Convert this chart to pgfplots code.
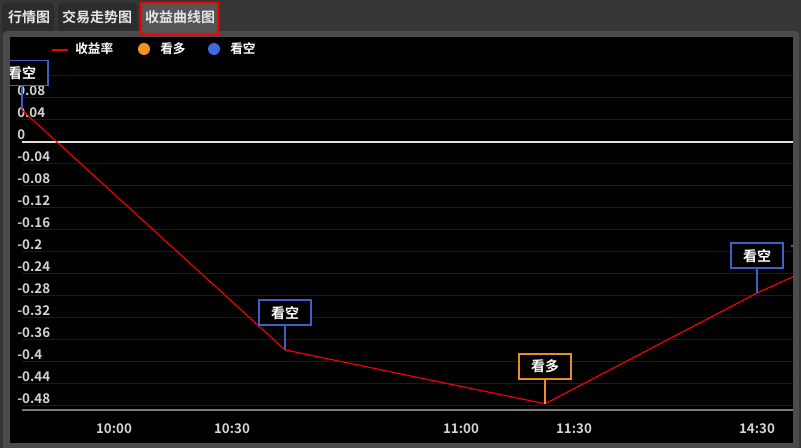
\documentclass[border=0pt]{standalone}
\usepackage{fontspec}
\setmainfont{Noto Sans CJK SC}[BoldFont={Noto Sans CJK SC Bold}]
\usepackage{pgfplots}
\pgfplotsset{compat=1.18}
\definecolor{bgtop}{HTML}{363636}
\definecolor{panel}{HTML}{4B4B4B}
\definecolor{tabbg}{HTML}{2C2C2C}
\definecolor{tabon}{HTML}{555555}
\definecolor{tabtxt}{HTML}{E6E6E6}
\definecolor{gridc}{HTML}{1C1C1C}
\definecolor{axisgray}{HTML}{7A7A7A}
\definecolor{ticktxt}{HTML}{D4D4D4}
\definecolor{lineRed}{HTML}{F00000}
\definecolor{duo}{HTML}{F7941D}
\definecolor{kong}{HTML}{4169E1}
\definecolor{kongbox}{HTML}{3F5FC8}
\definecolor{duobox}{HTML}{E8901E}

\begin{document}
\begin{tikzpicture}
% window chrome, in pixels (1px = 0.75pt)
\begin{scope}[x=0.75pt,y=-0.75pt]
  \fill[bgtop] (0,0) rectangle (801,448);
  \fill[tabbg, rounded corners=3pt] (2,3) rectangle (54,36);
  \fill[tabbg, rounded corners=3pt] (58,3) rectangle (137,36);
  \begin{scope}
    \clip (0,0) rectangle (801,448);
    \fill[panel, rounded corners=3pt] (3,31) rectangle (799,456);
  \end{scope}
  \fill[tabon] (142,4) rectangle (217,33);
  \draw[red, line width=1.5pt] (141,3) rectangle (218,34);
  \fill[black] (10,37) rectangle (793,443);
  \begin{scope}[font=\bfseries\fontsize{10.5}{12}\selectfont, text=tabtxt]
    \node at (29,17) {行情图};
    \node at (97,17) {交易走势图};
    \node at (180,17) {收益曲线图};
  \end{scope}
  % legend
  \begin{scope}[font=\bfseries\fontsize{9.5}{11}\selectfont, text=white]
    \draw[lineRed, line width=1pt] (52,50) -- (68,50);
    \node[anchor=west, inner sep=0pt] at (75,49) {收益率};
    \fill[duo] (144,49) circle (4.5pt);
    \node[anchor=west, inner sep=0pt] at (160,49) {看多};
    \fill[kong] (214,49) circle (4.5pt);
    \node[anchor=west, inner sep=0pt] at (230,49) {看空};
  \end{scope}
\end{scope}

\begin{axis}[
  at={(16.5pt,-307.5pt)}, anchor=south west,
  scale only axis, width=578.25pt, height=267pt,
  xmin=22, xmax=793, ymin=-0.4873, ymax=0.16,
  axis x line=bottom, axis y line=left,
  y axis line style={draw=none},
  x axis line style={draw=axisgray, line width=1.5pt, -},
  major tick length=0pt,
  xtick={114,232,461,574,757},
  xticklabels={10:00,10:30,11:00,11:30,14:30},
  ytick={-0.48,-0.44,-0.4,-0.36,-0.32,-0.28,-0.24,-0.2,-0.16,-0.12,-0.08,-0.04,0,0.04,0.08,0.12},
  yticklabels={-0.48,-0.44,-0.4,-0.36,-0.32,-0.28,-0.24,-0.2,-0.16,-0.12,-0.08,-0.04,0,0.04,0.08,{}},
  ymajorgrids, grid style={gridc, line width=0.75pt},
  tick label style={font=\bfseries\fontsize{10}{12}\selectfont, text=ticktxt},
  xticklabel style={anchor=center, yshift=-14.25pt},
  yticklabel style={anchor=west, inner sep=0pt, xshift=-3.75pt, yshift=5.25pt},
  clip=false,
]
\addplot[white!88!black, line width=1.1pt] coordinates {(22,0) (793,0)};
\addplot[lineRed, line width=0.9pt] coordinates {
  (22,0.058) (285,-0.378) (545,-0.476) (757,-0.2745) (793,-0.245)
};
\coordinate (a1) at (axis cs:22,0.058);
\coordinate (a2) at (axis cs:285,-0.378);
\coordinate (a3) at (axis cs:545,-0.476);
\coordinate (a4) at (axis cs:757,-0.2745);
\end{axis}

% signal annotations, clipped to the black panel
\begin{scope}
  \clip (7.5pt,-27.75pt) rectangle (594.75pt,-332.25pt);
  \foreach \p/\c/\t in {a1/kongbox/看空, a2/kongbox/看空, a3/duobox/看多, a4/kongbox/看空} {
    \draw[\c, line width=1.1pt] (\p) -- ++(0,18pt)
      node[anchor=south, draw=\c, line width=1.1pt, fill=black,
           minimum width=39pt, minimum height=18.75pt, inner sep=0pt,
           text=white, font=\bfseries\fontsize{10.5}{12}\selectfont] {\t};
  }
  \draw[kongbox, line width=1.1pt] (593.5pt,-184.5pt) -- (596pt,-184.5pt);
\end{scope}
\end{tikzpicture}
\end{document}
